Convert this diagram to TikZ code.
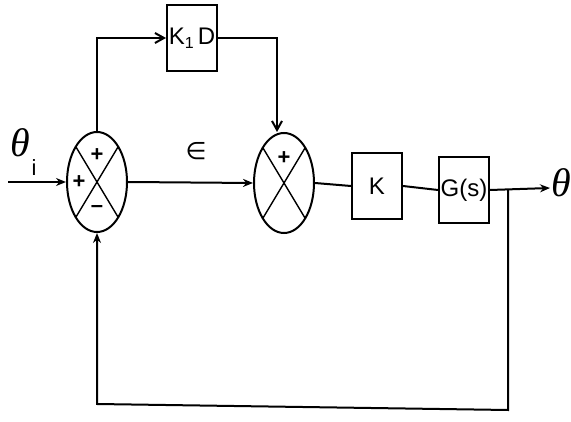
\documentclass[tikz,border=0pt]{standalone}
\usepackage{fontspec}
\setsansfont{Liberation Sans}
\newfontfamily\grk{Liberation Serif}
\newfontfamily\sym{DejaVu Sans}
\usetikzlibrary{shapes.geometric,arrows.meta,calc}
\begin{document}
\begin{tikzpicture}[x=1pt,y=-1pt,line width=2pt,
  summer/.style={draw,ellipse,minimum width=60pt,minimum height=100pt,inner sep=0pt},
  blk/.style={draw,rectangle,minimum width=50pt,minimum height=66pt,inner sep=0pt,font=\sffamily\fontsize{24}{24}\selectfont},
  sig/.style={font=\sffamily\bfseries\fontsize{22}{22}\selectfont},
  fa/.style={-{Stealth[length=10pt,width=8pt]}},
  oa/.style={-{Straight Barb[length=9pt,width=10pt]}}]
\useasboundingbox (0,0) rectangle (571,422);
\node[summer] (s1) at (97,182) {};
\node[summer] (s2) at (284,183) {};
\foreach \s in {s1,s2}{
  \draw[line width=1.4pt] ($(\s.center)+(-21,-35)$) -- ($(\s.center)+(21,35)$);
  \draw[line width=1.4pt] ($(\s.center)+(21,-35)$) -- ($(\s.center)+(-21,35)$);
}
\node[blk] (kd) at (192,38) {K\raisebox{-4pt}{\fontsize{16}{16}\selectfont 1}\,D};
\node[blk] (k) at (377,186) {K};
\node[blk] (g) at (464,190) {G(s)};
% signs
\node[sig] at (97,155) {+};
\node[sig] at (79,182) {+};
\node[sig] at (97,209) {--};
\node[sig] at (284,158) {+};
% labels
\node[inner sep=0pt] (ti) at (20,143) {\grk\itshape\fontsize{40}{40}\selectfont θ};
\node[inner sep=0pt] (tisub) at (34,168) {\sffamily\fontsize{22}{22}\selectfont i};
\node[inner sep=0pt] (eps) at (196,151) {\sym\fontsize{24}{24}\selectfont ∈};
\node[anchor=west,inner sep=0pt] (to) at (550,188) {\grk\itshape\fontsize{40}{40}\selectfont θ\raisebox{-10pt}{\fontsize{22}{22}\selectfont o}};
\coordinate (in) at (8,182);
\coordinate (br) at (508,190);
\coordinate (bb) at (508,410);
\coordinate (bl) at (97,404);
\coordinate (tl) at (97,38);
\coordinate (tr) at (277,38);
% connectors
\draw[fa] (in) -- (s1.west);
\draw[fa] (s1.east) -- (s2.west);
\draw[oa] (s1.north) -- (tl) -- (kd.west);
\draw[oa] (kd.east) -- (tr) -- (tr |- s2.north);
\draw (s2.east) -- (k.west);
\draw (k.east) -- (g.west);
\draw[fa] (g.east) -- (to.west);
\draw[fa] (br) -- (bb) -- (bl) -- (s1.south);
\end{tikzpicture}
\end{document}
